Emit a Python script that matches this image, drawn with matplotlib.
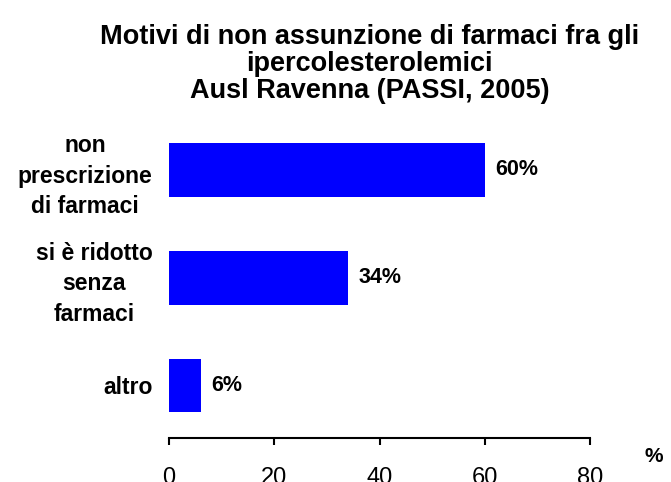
import matplotlib
matplotlib.use("Agg")
import matplotlib.pyplot as plt

categories = ["non\nprescrizione\ndi farmaci", "si è ridotto\nsenza\nfarmaci", "altro"]
values = [60, 34, 6]
value_labels = ["60%", "34%", "6%"]
x_ticks = [0, 20, 40, 60, 80]

plt.rcParams["font.family"] = ["Liberation Sans", "DejaVu Sans"]

fig = plt.figure(figsize=(6.71, 4.82), dpi=100)
ax = fig.add_axes([0.2519, 0.0913, 0.6274, 0.668])

pos = list(range(len(categories)))
ax.barh(pos, values, height=0.5, color="#0000ff")
for p, v, lab in zip(pos, values, value_labels):
    ax.text(v + 2.0, p, lab, va="center", ha="left", fontsize=15.5, fontweight="bold")

ax.set_xlim(0, 80)
ax.set_ylim(2.487, -0.5)
ax.set_xticks(x_ticks)
ax.set_xticklabels([str(t) for t in x_ticks], fontsize=17)
ax.set_yticks(pos)
ax.set_yticklabels(categories, fontsize=16.5, fontweight="bold", multialignment="center",
                   linespacing=1.42)
ax.tick_params(axis="y", length=0, pad=12)
ax.tick_params(axis="x", length=5, width=1.5, pad=16)
for s in ["top", "right", "left"]:
    ax.spines[s].set_visible(False)
ax.spines["bottom"].set_linewidth(1.5)

fig.text(0.974, 0.053, "%", fontsize=15, fontweight="bold", ha="center", va="center")
fig.text(0.551, 0.867, "Motivi di non assunzione di farmaci fra gli\nipercolesterolemici\nAusl Ravenna (PASSI, 2005)",
         ha="center", va="center", fontsize=19.5, fontweight="bold", linespacing=1.04)

fig.savefig("out.png", dpi=100)
